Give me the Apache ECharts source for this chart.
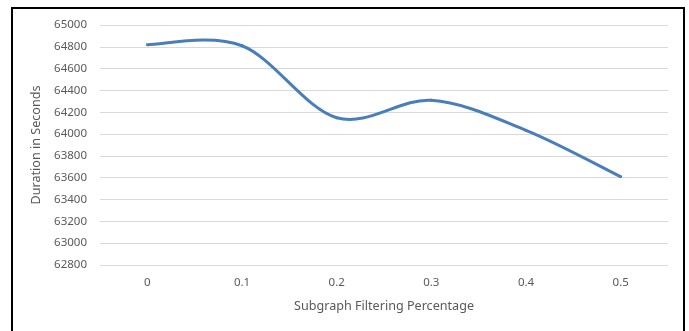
<!DOCTYPE html>
<html>
<head>
<meta charset="utf-8">
<script src="https://cdn.jsdelivr.net/npm/echarts@6/dist/echarts.min.js"></script>
<style>
html,body{margin:0;padding:0;background:#fff;}
#frame{position:absolute;left:11px;top:7px;width:670px;height:330px;border:2px solid #000;border-bottom:none;}
#chart{position:absolute;left:0;top:0;width:689px;height:331px;}
</style>
</head>
<body>
<div id="frame"></div>
<div id="chart"></div>
<script>
const categories = ['0', '0.1', '0.2', '0.3', '0.4', '0.5'];
const durations = [64820, 64810, 64150, 64310, 64035, 63610];
const yMin = 62800, yMax = 65000, yStep = 200;

const chart = echarts.init(document.getElementById('chart'), null, {renderer: 'canvas'});
const txt = {color: '#595959', fontFamily: 'Noto Sans', fontSize: 11.5};
const nameTxt = {color: '#595959', fontFamily: 'Noto Sans', fontSize: 12.6};

// Excel-style smoothed line (Catmull-Rom -> cubic Bezier), positions via the axes' scales
function renderSegment(params, api) {
  const i = params.dataIndex;
  const n = durations.length;
  if (i >= n - 1) return null;
  const P = k => {
    const kk = Math.max(0, Math.min(n - 1, k));
    return api.coord([kk, durations[kk]]);
  };
  const p0 = P(i - 1), p1 = P(i), p2 = P(i + 1), p3 = P(i + 2);
  const t = 1 / 6;
  return {
    type: 'bezierCurve',
    shape: {
      x1: p1[0], y1: p1[1],
      cpx1: p1[0] + (p2[0] - p0[0]) * t, cpy1: p1[1] + (p2[1] - p0[1]) * t,
      cpx2: p2[0] - (p3[0] - p1[0]) * t, cpy2: p2[1] - (p3[1] - p1[1]) * t,
      x2: p2[0], y2: p2[1]
    },
    style: {stroke: '#4a7ebb', lineWidth: 3, fill: null, lineCap: 'round'}
  };
}

chart.setOption({
  animation: false,
  grid: {left: 100, right: 21, top: 25, bottom: 66, containLabel: false},
  xAxis: {
    type: 'category',
    data: categories,
    boundaryGap: true,
    axisLine: {show: false},
    axisTick: {show: false},
    axisLabel: Object.assign({margin: 12}, txt),
    name: 'Subgraph Filtering Percentage',
    nameLocation: 'middle',
    nameGap: 35,
    nameTextStyle: nameTxt
  },
  yAxis: {
    type: 'value',
    min: yMin, max: yMax, interval: yStep,
    axisLine: {show: false},
    axisTick: {show: false},
    axisLabel: Object.assign({margin: 13, formatter: v => String(v)}, txt),
    splitLine: {lineStyle: {color: '#d9d9d9', width: 1}},
    name: 'Duration in Seconds',
    nameLocation: 'middle',
    nameGap: 51,
    nameRotate: 90,
    nameTextStyle: nameTxt
  },
  series: [{
    type: 'custom',
    data: durations.map((v, i) => [i, v]),
    encode: {x: 0, y: 1},
    clip: false,
    renderItem: renderSegment
  }]
});
</script>
</body>
</html>
